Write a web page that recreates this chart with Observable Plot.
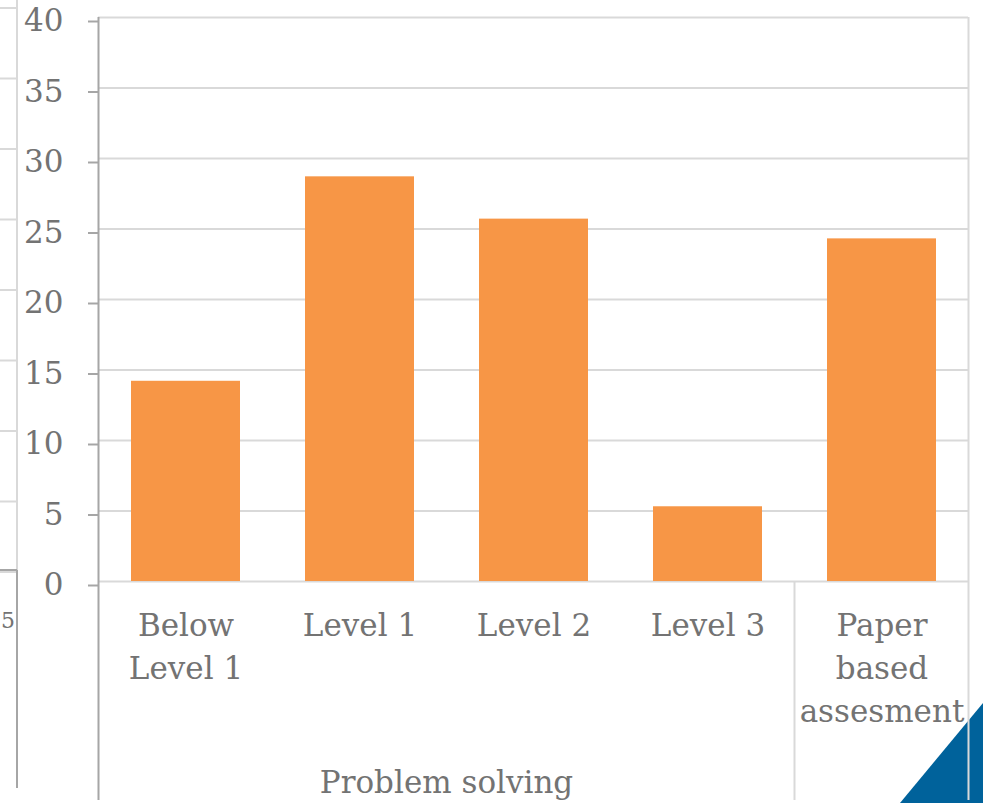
<!DOCTYPE html>
<html>
<head>
<meta charset="utf-8">
<script src="https://cdn.jsdelivr.net/npm/d3@7"></script>
<script src="https://cdn.jsdelivr.net/npm/@observablehq/plot@0.6"></script>
<style>
  html, body { margin: 0; padding: 0; background: #ffffff; }
  #chart svg { display: block; }
</style>
</head>
<body>
<div id="chart"></div>
<script>
// Share of students per proficiency level
const categories = ["Below Level 1", "Level 1", "Level 2", "Level 3", "Paper based assesment"];
const values = [14.2, 28.7, 25.7, 5.3, 24.3];
const categoryLabels = ["Below\nLevel 1", "Level 1", "Level 2", "Level 3", "Paper\nbased\nassesment"];
const yTicks = [0, 5, 10, 15, 20, 25, 30, 35, 40];
const groupLabel = "Problem solving";
const groupMembers = ["Below Level 1", "Level 1", "Level 2", "Level 3"];

const rows = categories.map((c, i) => ({category: c, value: values[i]}));
const labelOf = new Map(categories.map((c, i) => [c, categoryLabels[i]]));

const FONT = "DejaVu Serif";
const FS = 31;
const TEXT = "#737373";
const GRID = "#d9d9d9";
const AXIS = "#a6a6a6";
const PAD_INNER = 0.374;
const PAD_OUTER = PAD_INNER / 2;

const chart = Plot.plot({
  width: 983,
  height: 803,
  marginLeft: 98,
  marginRight: 15,
  marginTop: 17,
  marginBottom: 222,
  style: {fontFamily: FONT, fontSize: `${FS}px`, color: TEXT, background: "#ffffff"},
  x: {domain: categories, paddingInner: PAD_INNER, paddingOuter: PAD_OUTER, axis: null},
  y: {domain: [0, 40], axis: null},
  marks: [
    Plot.gridY(yTicks, {stroke: GRID, strokeOpacity: 1, strokeWidth: 2}),
    Plot.barY(rows, {x: "category", y: "value", fill: "#F79646"}),
    Plot.axisY(yTicks, {
      tickSize: 10, tickPadding: 25, stroke: AXIS, strokeWidth: 2,
      fill: TEXT, fontSize: FS, label: null, dy: 4
    }),
    Plot.axisX({
      tickSize: 0, tickPadding: 24, fill: TEXT, fontSize: FS, lineHeight: 1.39,
      label: null, tickFormat: d => labelOf.get(d)
    })
  ]
});

document.getElementById("chart").appendChild(chart);

// Category-axis frame: vertical dividers and the group label
const svg = d3.select(chart);
const sx = chart.scale("x");
const sy = chart.scale("y");
const gap = (sx.step - sx.bandwidth) / 2;
const yZero = sy.apply(0);
const yTop = sy.apply(40);
const bottom = 800;

const left = sx.apply(categories[0]) - gap;
const right = sx.apply(categories[categories.length - 1]) + sx.bandwidth + gap;
const groupEnd = sx.apply(groupMembers[groupMembers.length - 1]) + sx.bandwidth + gap;

// neighbouring panel edge on the far left
const edge = svg.append("g");
edge.selectAll("line.g").data(yTicks).join("line")
  .attr("x1", 0).attr("x2", 17)
  .attr("y1", d => sy.apply(d) - 9).attr("y2", d => sy.apply(d) - 9)
  .attr("stroke", GRID).attr("stroke-width", 2);
edge.append("line").attr("x1", 17).attr("x2", 17).attr("y1", 0).attr("y2", yZero - 11)
  .attr("stroke", GRID).attr("stroke-width", 2);
edge.append("line").attr("x1", 0).attr("x2", 17).attr("y1", yZero - 11).attr("y2", yZero - 11)
  .attr("stroke", AXIS).attr("stroke-width", 2);
edge.append("line").attr("x1", 17).attr("x2", 17).attr("y1", yZero - 11).attr("y2", 788)
  .attr("stroke", AXIS).attr("stroke-width", 2);
edge.append("text").attr("x", 1).attr("y", 628).attr("text-anchor", "start")
  .attr("font-family", FONT).attr("font-size", 22).attr("fill", TEXT).text("5");

// corner decoration
svg.append("polygon")
  .attr("points", "900,803 983,703 983,803")
  .attr("fill", "#00629B");

const frame = svg.append("g").attr("stroke-width", 2);
frame.append("line").attr("x1", left).attr("x2", left).attr("y1", yTop).attr("y2", bottom).attr("stroke", AXIS);
frame.append("line").attr("x1", groupEnd).attr("x2", groupEnd).attr("y1", yZero).attr("y2", bottom).attr("stroke", GRID);
frame.append("line").attr("x1", right).attr("x2", right).attr("y1", yTop).attr("y2", bottom).attr("stroke", GRID);

svg.append("text")
  .attr("x", (left + groupEnd) / 2).attr("y", 793)
  .attr("text-anchor", "middle")
  .attr("font-family", FONT).attr("font-size", FS).attr("fill", TEXT)
  .text(groupLabel);
</script>
</body>
</html>
